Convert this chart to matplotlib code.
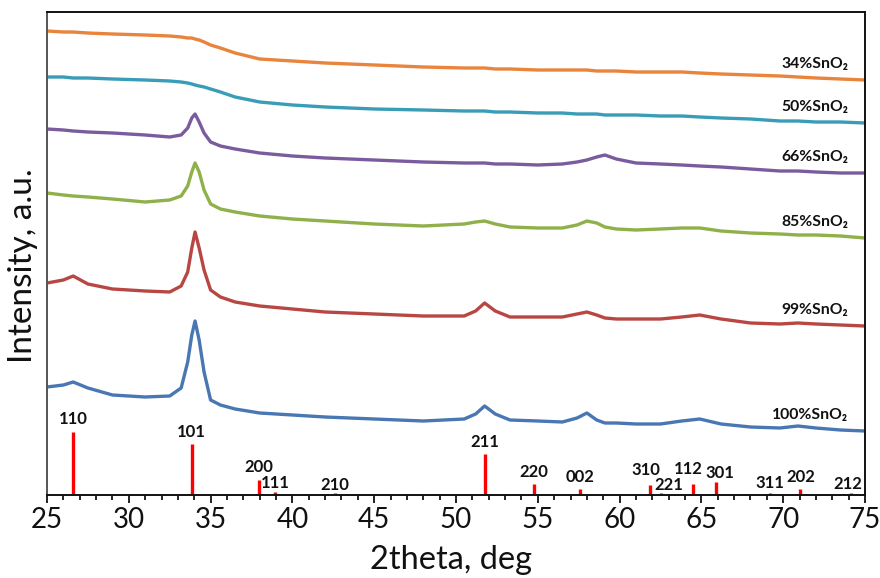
import matplotlib
matplotlib.use('Agg')
import matplotlib.pyplot as plt

two_theta = [25, 26, 26.6, 27.5, 29, 31, 32.5, 33.2, 33.6, 33.85, 34.05, 34.3, 34.6, 35.0,
             35.6, 36.5, 38, 40, 42, 45, 48, 50.5, 51.2, 51.75, 52.4, 53.3, 55, 56.5, 57.4,
             58.0, 58.6, 59.1, 59.8, 61, 62.5, 63.8, 64.9, 66.2, 68, 69.8, 70.9, 72, 73.5, 75]

# stacked intensities, a.u. (offsets included)
i_34 = [464, 463, 463, 462, 461, 460, 459, 458, 457, 457, 456, 455, 453, 450, 447, 442, 436,
        434, 432, 430, 428, 427, 427, 427, 426, 426, 425, 425, 425, 425, 424, 424, 424, 423,
        423, 423, 422, 421, 420, 419, 418, 417, 416, 415]
i_50 = [418, 418, 417, 417, 416, 415, 414, 413, 412, 411, 410, 409, 408, 406, 403, 398, 393,
        390, 388, 386, 385, 384, 384, 384, 383, 383, 382, 382, 381, 381, 381, 380, 380, 380,
        379, 379, 378, 377, 376, 374, 374, 373, 373, 372]
i_66 = [366, 365, 364, 363, 362, 360, 358, 360, 367, 377, 381, 373, 362, 353, 349, 346, 342,
        339, 337, 335, 333, 332, 332, 332, 331, 331, 330, 331, 333, 335, 338, 340, 336, 332,
        331, 330, 329, 328, 326, 324, 324, 323, 322, 322]
i_85 = [302, 300, 299, 298, 296, 293, 295, 299, 309, 323, 332, 323, 305, 291, 286, 283, 279,
        276, 274, 271, 269, 271, 273, 274, 271, 268, 267, 267, 270, 274, 272, 268, 266, 265,
        266, 267, 267, 264, 262, 261, 260, 260, 259, 257]
i_99 = [212, 215, 219, 211, 206, 204, 203, 209, 223, 247, 263, 247, 225, 205, 198, 193, 189,
        186, 183, 181, 179, 179, 184, 192, 184, 178, 178, 178, 181, 183, 180, 177, 176, 176,
        176, 178, 180, 176, 172, 171, 172, 171, 170, 169]
i_100 = [108, 110, 113, 107, 100, 98, 99, 107, 133, 160, 174, 155, 123, 95, 90, 86, 82,
         80, 78, 76, 74, 76, 81, 89, 81, 75, 74, 73, 77, 82, 75, 72, 72, 71, 71, 74, 76, 71,
         68, 67, 69, 67, 65, 64]

series_names = ['34%SnO₂', '50%SnO₂', '66%SnO₂', '85%SnO₂', '99%SnO₂', '100%SnO₂']
series_vals = [i_34, i_50, i_66, i_85, i_99, i_100]
series_colors = ['#E8843C', '#3A9DB8', '#7A5C9E', '#8FB04A', '#B84744', '#4877B3']

# reference SnO2 reflections
ref_pos = [26.6, 33.85, 37.95, 38.95, 42.6, 51.75, 54.75, 57.6, 61.85, 62.55, 64.5, 65.9,
           69.2, 71.05, 74.15]
ref_int = [63, 51, 15, 3, 2, 41, 11, 6, 10, 2, 11, 13, 2, 6, 2]
ref_hkl = ['110', '101', '200', '111', '210', '211', '220', '002', '310', '221', '112', '301',
           '311', '202', '212']
# label offsets from the stick top, in pixels
hkl_off = [(0, 13), (0, 12), (0, 13), (0, 9), (0, 8), (0, 12), (0, 12), (0, 12), (-4, 15),
           (7, 8), (-5, 15), (4, 9), (0, 10), (0, 12), (-3, 9)]

fam = ['Lato', 'DejaVu Sans']
px = 0.72  # points per pixel at dpi 100

fig = plt.figure(figsize=(8.8, 5.78), dpi=100)
ax = fig.add_axes([47 / 880, 1 - 495 / 578, 818 / 880, 483 / 578])

for name, vals, col in zip(series_names, series_vals, series_colors):
    ax.plot(two_theta, vals, color=col, lw=2.4, solid_joinstyle='round')
    ax.annotate(name, xy=(two_theta[-1], vals[-1]), xytext=(-17 * px, 16 * px),
                textcoords='offset points', ha='right', va='center',
                fontsize=11.3, fontweight='bold', family=fam, color='#111111')

ax.vlines(ref_pos, 0, ref_int, color='red', lw=2.4)
for pos, h, lab, (dx, dy) in zip(ref_pos, ref_int, ref_hkl, hkl_off):
    ax.annotate(lab, xy=(pos, h), xytext=(dx * px, dy * px), textcoords='offset points',
                ha='center', va='center', fontsize=12, fontweight='bold', family=fam,
                color='#111111')

ax.set_xlim(25, 75)
ax.set_ylim(0, 483)
ax.set_xticks(range(25, 76, 5))
ax.set_xticks(range(25, 76, 1), minor=True)
ax.set_yticks([])
ax.tick_params(axis='x', which='major', direction='out', length=6, width=1.3, pad=3,
               labelsize=20, colors='#111111')
ax.tick_params(axis='x', which='minor', direction='out', length=3.5, width=1.2)
for lbl in ax.get_xticklabels():
    lbl.set_family(fam)
for s in ax.spines.values():
    s.set_linewidth(1.4)
    s.set_color('#111111')
ax.spines['left'].set_color('#555555')

fig.text(23 / 880, 1 - 266 / 578, 'Intensity, a.u.', rotation=90, ha='center', va='center',
         fontsize=24, family=fam, color='#111111')
fig.text(451 / 880, 1 - 569 / 578, '2theta, deg', ha='center', va='baseline',
         fontsize=23.5, family=fam, color='#111111')

fig.savefig('out.png', dpi=100)
